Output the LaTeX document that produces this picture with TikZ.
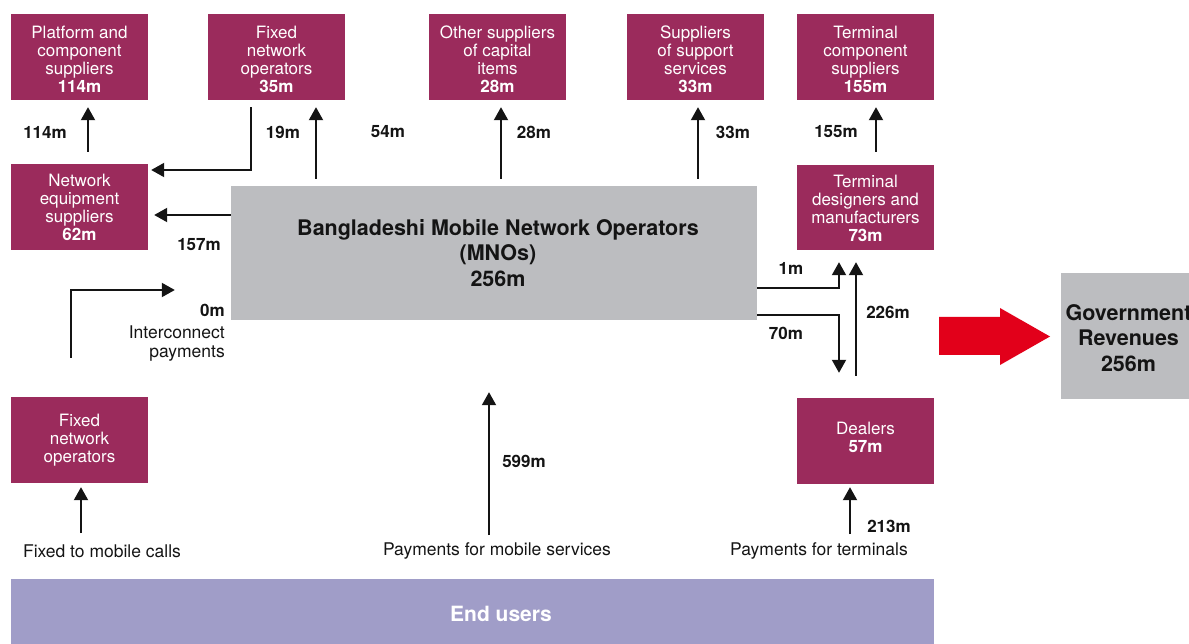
\documentclass[tikz,border=0pt]{standalone}
\usepackage{fontspec}
\setmainfont{TeX Gyre Heros}
\usetikzlibrary{arrows.meta,calc}
\definecolor{plum}{HTML}{9B2B5C}
\definecolor{mnogray}{HTML}{BCBDC0}
\definecolor{usersviolet}{HTML}{A09DC8}
\definecolor{flowred}{HTML}{E2001A}
\definecolor{ink}{HTML}{141414}
% extra room above the first line / below the last line of a box text
\newcommand\toproom[1]{\rule{0pt}{#1}}
\newcommand\baseroom[1]{\rule[-#1]{0pt}{0pt}}
\newcommand\nudge{\hspace*{8pt}}

\begin{document}
\begin{tikzpicture}[x=1pt,y=-1pt,
  party/.style={fill=plum, text=white, minimum width=137pt, minimum height=86pt,
    inner sep=0pt, align=center, font=\fontsize{17}{18}\selectfont},
  hub/.style={fill=mnogray, text=ink, inner sep=0pt, align=center,
    font=\fontsize{21.5}{25.5}\selectfont\bfseries},
  flow/.style={draw=ink, line width=2pt, -{Triangle[width=14pt,length=13pt]}},
  amount/.style={text=ink, inner sep=0pt, font=\fontsize{17}{18}\selectfont\bfseries},
  caption/.style={text=ink, inner sep=0pt, font=\fontsize{17.5}{18}\selectfont},
]
\useasboundingbox (0,0) rectangle (1189,644);
\clip (0,0) rectangle (1189,644);

% suppliers along the top
\node[party] (plat) at (79.5,57) {\toproom{18pt}Platform and\\component\\suppliers\\\textbf{114m}};
\node[party] (fixtop) at (276.5,57) {\toproom{18pt}Fixed\\network\\operators\\\textbf{35m}};
\node[party] (other) at (497.5,57) {\toproom{18pt}Other suppliers\\of capital\\items\\\textbf{28m}};
\node[party] (supp) at (695.5,57) {\toproom{18pt}Suppliers\\of support\\services\\\textbf{33m}};
\node[party] (termcomp) at (865.5,57) {\toproom{18pt}Terminal\\component\\suppliers\\\textbf{155m}};

% second row and lower boxes
\node[party] (neteq) at (79.5,207) {\toproom{14pt}Network\\equipment\\suppliers\\\textbf{62m}};
\node[party, minimum height=85pt] (termdes) at (865.5,207.5) {\toproom{14pt}Terminal\\designers and\\manufacturers\\\textbf{73m}};
\node[party] (fixbot) at (79.5,440) {Fixed\\network\\operators};
\node[party] (dealers) at (865.5,441) {Dealers\\\textbf{57m}\baseroom{8pt}};

% operators and government
\node[hub, minimum width=526pt, minimum height=134pt] (mno) at (494,253)
  {\nudge Bangladeshi Mobile Network Operators\\\nudge(MNOs)\\\nudge 256m};
\node[hub, minimum width=135pt, minimum height=126pt] (gov) at (1128.5,336)
  {\toproom{20pt}Government\\Revenues\\256m};

% end users band
\fill[usersviolet] (11,579) rectangle (934,646);
\node[text=white, inner sep=0pt, font=\fontsize{21}{25}\selectfont\bfseries] (users) at (501,614) {End users};

% tax flow to government
\fill[flowred] (939,317) -- (1000,317) -- (1000,308) -- (1050,336.5)
  -- (1000,365) -- (1000,355) -- (939,355) -- cycle;

% money flows
\draw[flow] ($(neteq.north)+(8.5,-12)$) -- ($(plat.south)+(8.5,7)$);
\draw[flow] ($(fixtop.south)+(-25.5,7)$) |- ($(neteq.east)+(3,-37)$);
\draw[flow] ($(fixtop.south |- mno.north)+(39.5,-7)$) -- ($(fixtop.south)+(39.5,7)$);
\draw[flow] ($(mno.west)+(0,-38)$) -- ($(neteq.east)+(6,8)$);
\draw[flow] ($(other.south |- mno.north)+(3.5,-7)$) -- ($(other.south)+(3.5,7)$);
\draw[flow] ($(supp.south |- mno.north)+(2.5,-7)$) -- ($(supp.south)+(2.5,7)$);
\draw[flow] ($(termdes.north)+(10.5,-13)$) -- ($(termcomp.south)+(10.5,7)$);
\draw[flow] ($(mno.east)+(0,35)$) -| ($(termdes.south)+(-26.5,12)$);
\draw[flow] ($(mno.east)+(0,62)$) -| ($(dealers.north)+(-26.5,-25)$);
\draw[flow] ($(dealers.north)+(-9.5,-22)$) -- ($(termdes.south)+(-9.5,12)$);
\draw[flow] ($(fixbot.north)+(-8.5,-39)$) |- ($(mno.west)+(-56,37)$);
\draw[flow] ($(fixbot.south)+(1.5,50)$) -- ($(fixbot.south)+(1.5,4)$);
\draw[flow] ($(mno.south)+(-5,215)$) -- ($(mno.south)+(-5,72)$);
\draw[flow] ($(dealers.south)+(-15.5,50)$) -- ($(dealers.south)+(-15.5,3)$);

% amounts on the flows
\node[amount] (a114) at (45,132) {114m};
\node[amount] (a19) at (283,132) {19m};
\node[amount] (a54) at (388,132) {54m};
\node[amount] (a28) at (534,132) {28m};
\node[amount] (a33) at (733,132) {33m};
\node[amount] (a155) at (836,132) {155m};
\node[amount] (a157) at (199,245) {157m};
\node[amount] (a1) at (791,268) {1m};
\node[amount] (a70) at (786,333) {70m};
\node[amount] (a226) at (888,312) {226m};
\node[amount] (a599) at (524,461) {599m};
\node[amount] (a213) at (889,526) {213m};
\node[amount, anchor=base east] (a0) at (225,317) {0m};
\node[caption, anchor=base east] (icx1) at (225,339) {Interconnect};
\node[caption, anchor=base east] (icx2) at (225,357) {payments};

% captions above the end users
\node[caption] (fixcap) at (102,551) {Fixed to mobile calls};
\node[caption] (mobcap) at (497,551) {Payments for mobile services};
\node[caption] (termcap) at (819,551) {Payments for terminals};
\end{tikzpicture}
\end{document}
